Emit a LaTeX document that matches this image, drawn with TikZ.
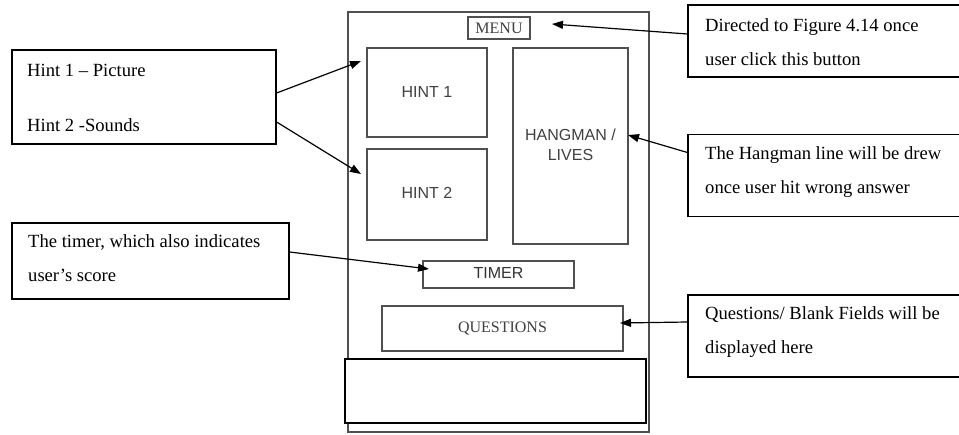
\documentclass[tikz,border=0pt]{standalone}
\usepackage{fontspec}
\setmainfont{Liberation Serif}
\newfontfamily\uisans{Liberation Sans}
\usetikzlibrary{arrows.meta}
\definecolor{uigray}{HTML}{505050}
\definecolor{uitext}{HTML}{404040}
\tikzset{
  callout/.style={draw=black, line width=1.2pt, fill=white, inner sep=0pt},
  calltxt/.style={anchor=base west, inner sep=0pt, font=\fontsize{18.6}{21}\selectfont},
  uibox/.style={draw=uigray, line width=1.5pt, fill=white, inner sep=0pt},
  uisanslab/.style={text=uitext, inner sep=0pt, font=\uisans\fontsize{16}{20}\selectfont},
  uiseriflab/.style={text=uitext, inner sep=0pt, font=\fontsize{16}{20}\selectfont},
  pointer/.style={draw=black, line width=1.2pt, -{Triangle[length=11pt,width=8pt]}},
}
\begin{document}
\begin{tikzpicture}[x=1pt,y=-1pt]
\useasboundingbox (0,0) rectangle (959,434);
\clip (0,0) rectangle (959,434);
\fill[white] (0,0) rectangle (959,434);

% phone frame
\node[uibox, minimum width=301pt, minimum height=420pt] (frame) at (498.5,222) {};
\node[draw=black, line width=1.2pt, fill=white, inner sep=0pt, minimum width=301pt, minimum height=64pt] (bottom) at (495.5,391) {};

\node[uibox, line width=1.3pt, minimum width=62pt, minimum height=22pt] (menu) at (499,28) {};
\node[uiseriflab] (menutxt) at (499,28.5) {MENU};

\node[uibox, minimum width=120pt, minimum height=89pt] (hint1) at (427,92.5) {};
\node[uisanslab] (hint1txt) at (427,92) {HINT 1};

\node[uibox, minimum width=120pt, minimum height=91pt] (hint2) at (427,194.5) {};
\node[uisanslab] (hint2txt) at (427,193) {HINT 2};

\node[uibox, minimum width=115pt, minimum height=196pt] (hang) at (570.5,146) {};
\node[uisanslab] (hangtxt1) at (570.5,135) {HANGMAN /};
\node[uisanslab] (hangtxt2) at (570.5,155) {LIVES};

\node[uibox, minimum width=151pt, minimum height=27pt] (timer) at (498.5,274.5) {};
\node[uisanslab, text=black!80] (timertxt) at (498.5,273) {TIMER};

\node[uibox, minimum width=241pt, minimum height=45pt] (quest) at (502.5,328.5) {};
\node[uiseriflab] (questtxt) at (502.5,328) {QUESTIONS};

% callout boxes
\node[callout, minimum width=264pt, minimum height=94pt] (hintbox) at (144,97) {};
\node[calltxt] (hl1) at (27,76) {Hint 1 – Picture};
\node[calltxt] (hl2) at (27,131) {Hint 2 -Sounds};

\node[callout, minimum width=277pt, minimum height=76pt] (timebox) at (150.5,261) {};
\node[calltxt] (tl1) at (28,247) {The timer, which also indicates};
\node[calltxt] (tl2) at (28,281) {user’s score};

\node[callout, minimum width=280pt, minimum height=72pt] (dirbox) at (828,41) {};
\node[calltxt] (dl1) at (705,31) {Directed to Figure 4.14 once};
\node[calltxt] (dl2) at (705,65) {user click this button};

\node[callout, minimum width=280pt, minimum height=82pt] (hangbox) at (828,175.5) {};
\node[calltxt] (gl1) at (705,159) {The Hangman line will be drew};
\node[calltxt] (gl2) at (705,193) {once user hit wrong answer};

\node[callout, minimum width=280pt, minimum height=82pt] (questbox) at (828,336) {};
\node[calltxt] (ql1) at (705,319) {Questions/ Blank Fields will be};
\node[calltxt] (ql2) at (705,353) {displayed here};

% arrow tips
\coordinate (tipA) at (361,61);
\coordinate (tipB) at (361,174);
\coordinate (tipMenu) at (552,24);
\coordinate (tipHang) at (628,135);
\coordinate (tipTimer) at (429,269);
\coordinate (tipQuest) at (620,323);

\draw[pointer] ([yshift=4pt]hintbox.east) -- (tipA);
\draw[pointer] ([yshift=-25pt]hintbox.east) -- (tipB);
\draw[pointer] ([yshift=7pt]dirbox.west) -- (tipMenu);
\draw[pointer] ([yshift=23pt]hangbox.west) -- (tipHang);
\draw[pointer] ([yshift=9pt]timebox.east) -- (tipTimer);
\draw[pointer] ([yshift=14pt]questbox.west) -- (tipQuest);
\end{tikzpicture}
\end{document}
